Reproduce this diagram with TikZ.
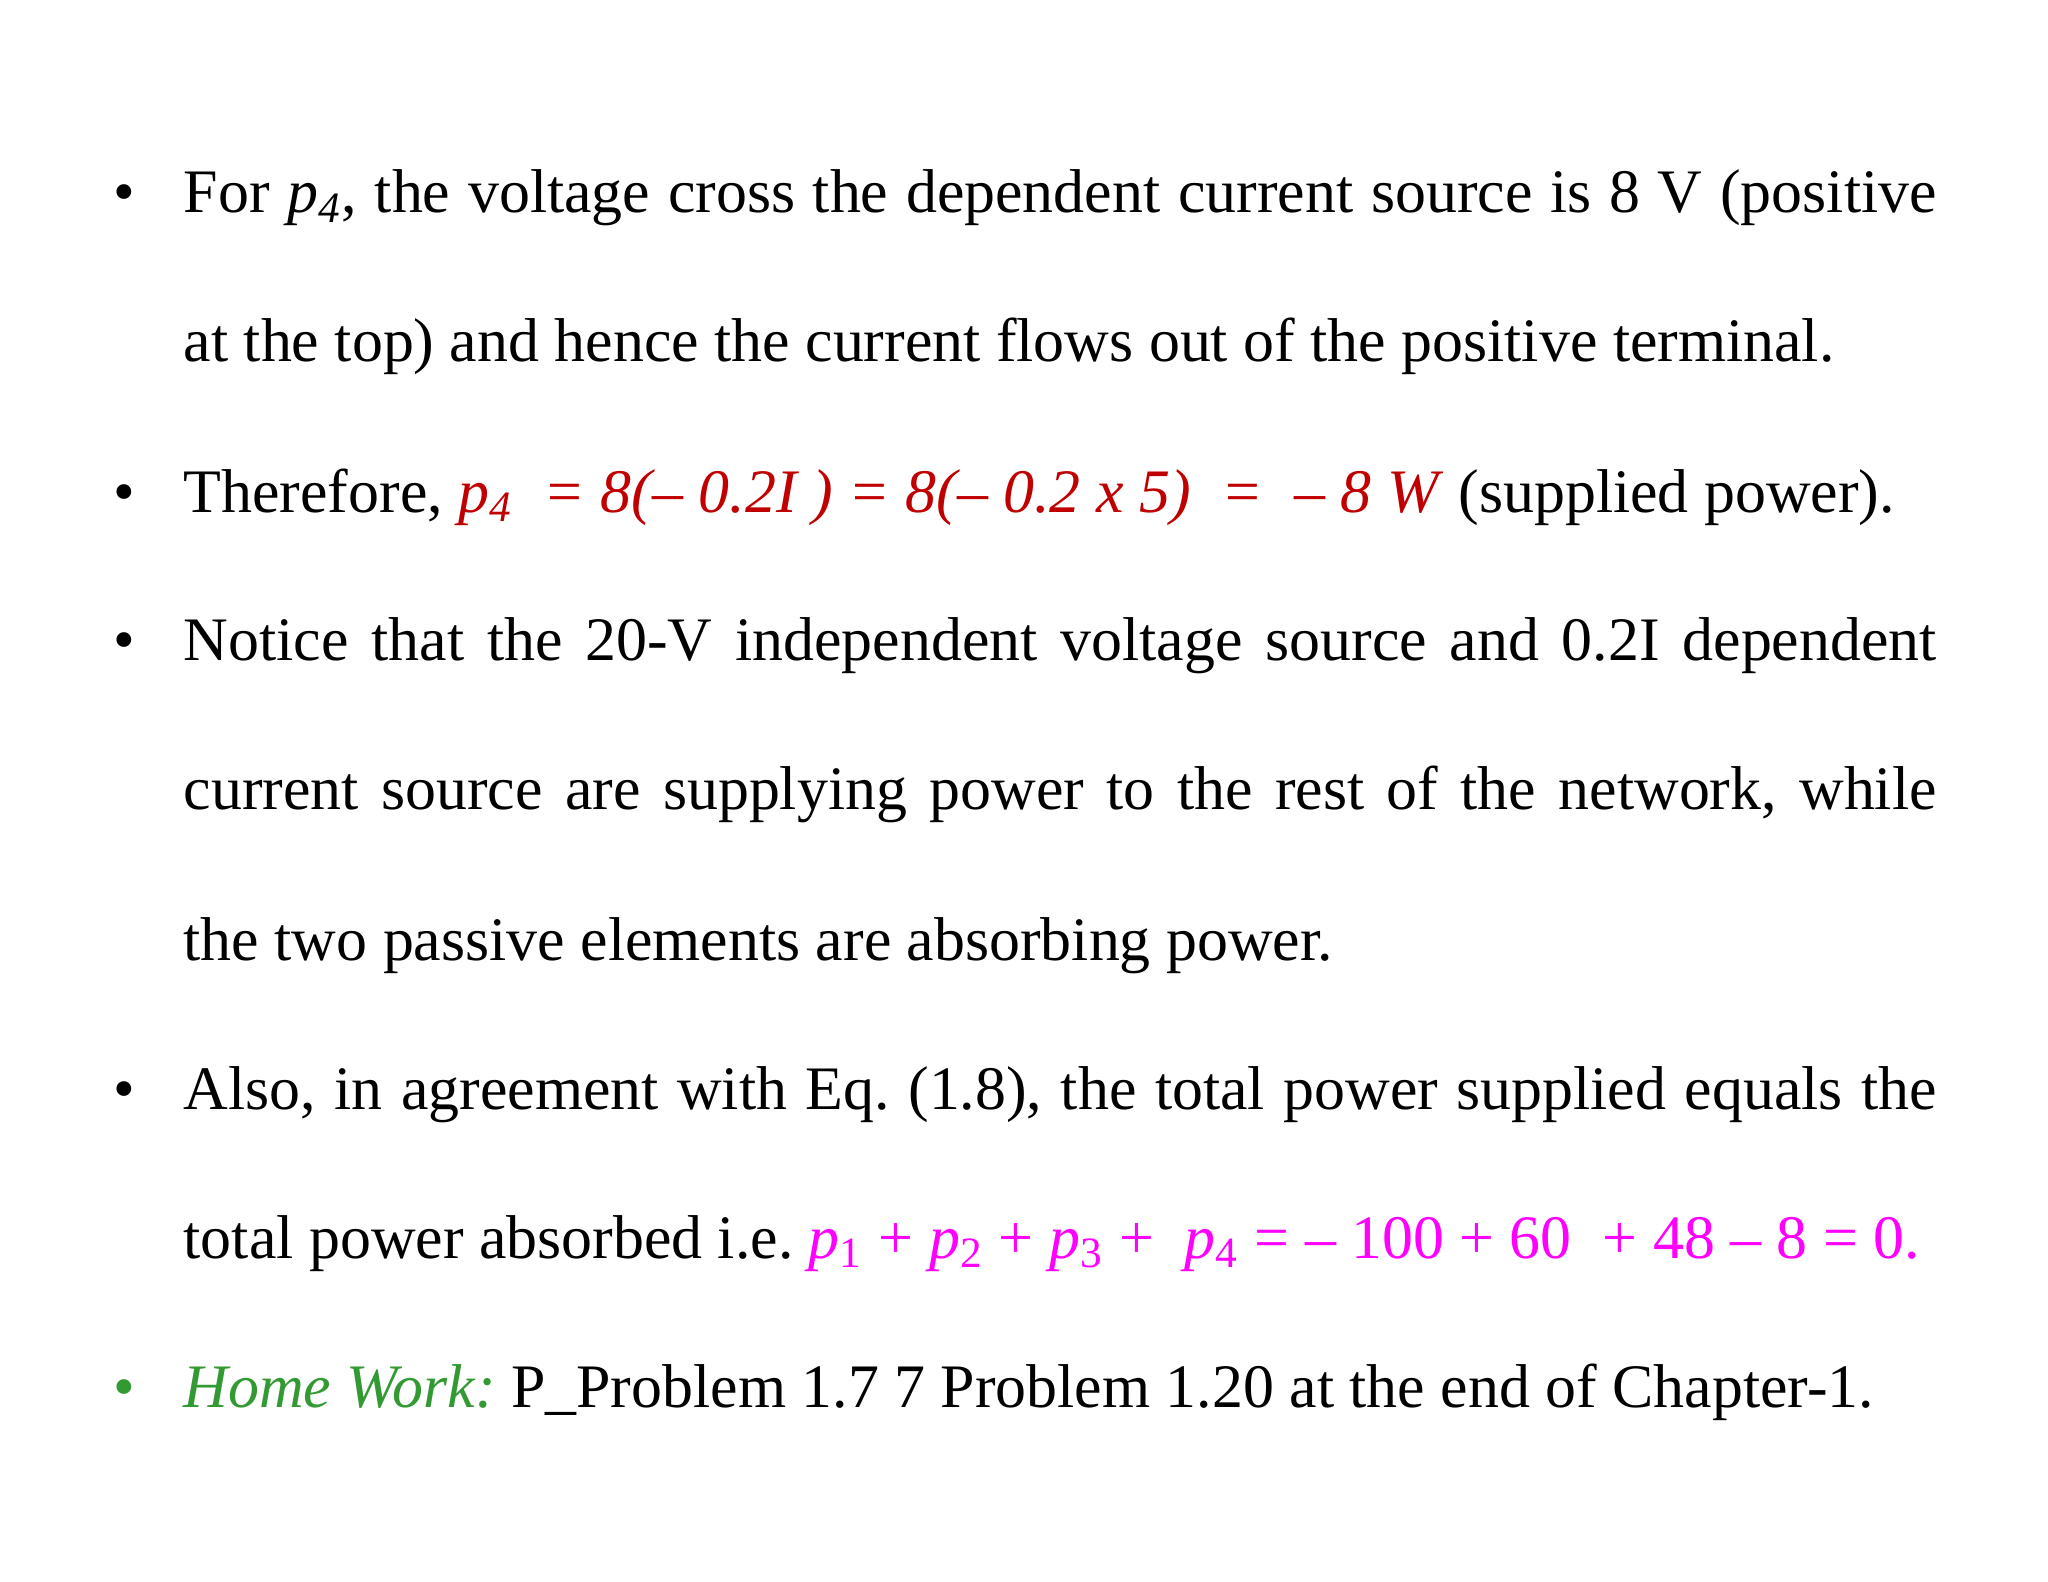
\documentclass[tikz,border=0pt]{standalone}
\usepackage{fontspec}
\setmainfont{Liberation Serif}
\definecolor{dred}{RGB}{192,0,0}
\definecolor{mag}{RGB}{255,0,255}
\definecolor{hgreen}{RGB}{51,153,51}
\newcommand{\sub}[1]{\textsubscript{#1}}
\frenchspacing
\begin{document}
\begin{tikzpicture}[x=1cm,y=1cm,
  txt/.style={anchor=base west,inner sep=0pt,font=\fontsize{17.6pt}{20pt}\selectfont},
  bul/.style={anchor=base,inner sep=0pt,font=\fontsize{17.6pt}{20pt}\selectfont}]
\useasboundingbox (0,0) rectangle (20.48,-15.82);
\def\L{1.83}
\def\W{17.53cm}
\def\B{1.24}
\node[bul] (b1) at (\B,-2.13) {•};
\node[txt] (l1) at (\L,-2.13) {\makebox[\W][s]{For \textit{p\sub{4}}, the voltage cross the dependent current source is 8 V (positive}};
\node[txt] (l2) at (\L,-3.62) {at the top) and hence the current flows out of the positive terminal.};
\node[bul] (b2) at (\B,-5.12) {•};
\node[txt] (l3) at (\L,-5.12) {Therefore, \textcolor{dred}{\textit{p\sub{4}}\ \ \textit{= 8(– 0.2I ) = 8(– 0.2 x 5)\ \ =\ \ – 8 W}} (supplied power).};
\node[bul] (b3) at (\B,-6.61) {•};
\node[txt] (l4) at (\L,-6.61) {\makebox[\W][s]{Notice that the 20-V independent voltage source and 0.2I dependent}};
\node[txt] (l5) at (\L,-8.10) {\makebox[\W][s]{current source are supplying power to the rest of the network, while}};
\node[txt] (l6) at (\L,-9.60) {the two passive elements are absorbing power.};
\node[bul] (b4) at (\B,-11.09) {•};
\node[txt] (l7) at (\L,-11.09) {\makebox[\W][s]{Also, in agreement with Eq. (1.8), the total power supplied equals the}};
\node[txt] (l8) at (\L,-12.58) {total power absorbed i.e. \textcolor{mag}{\textit{p}\sub{1} + \textit{p}\sub{2} + \textit{p}\sub{3} +\ \ \textit{p}\sub{4} = – 100 + 60\ \ + 48 – 8 = 0.}};
\node[bul,text=hgreen] (b5) at (\B,-14.07) {•};
\node[txt] (l9) at (\L,-14.07) {\textcolor{hgreen}{\textit{Home Work:}} P\_Problem 1.7 7 Problem 1.20 at the end of Chapter-1.};
\end{tikzpicture}
\end{document}
